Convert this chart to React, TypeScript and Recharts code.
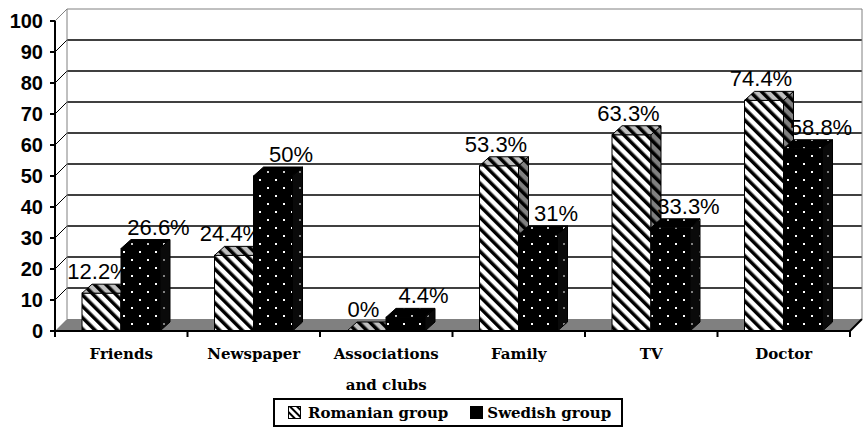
import { BarChart, Bar, XAxis, YAxis, CartesianGrid, Legend, LabelList } from "recharts";

const categories = ["Friends", "Newspaper", "Associations and clubs", "Family", "TV", "Doctor"];
const romanian = [12.2, 24.4, 0, 53.3, 63.3, 74.4];
const swedish = [26.6, 50, 4.4, 31, 33.3, 58.8];
const yTicks = [0, 10, 20, 30, 40, 50, 60, 70, 80, 90, 100];
const seriesNames = ["Romanian group", "Swedish group"];

const data = categories.map((name, i) => ({ name, ro: romanian[i], sw: swedish[i] }));

const W = 865;
const H = 428;
const M = { top: 21, right: 15, bottom: 1, left: 0 };
const XAXIS_H = 67;
const LEGEND_H = 29;
const PLOT_TOP = M.top;
const PLOT_BOTTOM = H - M.bottom - LEGEND_H - XAXIS_H;
const WALL = 12; // depth of the back wall
const BX = 10; // bar depth
const BY = 9;

function splitLabel(s: string) {
  if (s.length <= 14) return [s];
  const i = s.indexOf(" ");
  return [s.slice(0, i), s.slice(i + 1)];
}

function CatTick({ x, y, payload }: any) {
  return (
    <g>
      {splitLabel(String(payload.value)).map((line, i) => (
        <text
          key={i}
          x={x}
          y={y + 28 + i * 31}
          textAnchor="middle"
          fontFamily="DejaVu Serif"
          fontWeight="bold"
          fontSize={15}
          fill="#000"
        >
          {line}
        </text>
      ))}
    </g>
  );
}

function Box3D({ x, y, width, height, kind }: any) {
  if (x == null || y == null) return null;
  const x0 = x;
  const x1 = x + width;
  const yb = y + height;
  const front = kind === "ro" ? "url(#roFront)" : "url(#swFront)";
  const top = kind === "ro" ? "url(#roTop)" : "url(#swTop)";
  const side = kind === "ro" ? "url(#roSide)" : "url(#swSide)";
  return (
    <g>
      {height > 0 && (
        <rect x={x0} y={y} width={width} height={height} fill={front} stroke="#000" strokeWidth={1} />
      )}
      <polygon
        points={`${x1},${y} ${x1 + BX},${y - BY} ${x1 + BX},${yb - BY} ${x1},${yb}`}
        fill={side}
        stroke="#000"
        strokeWidth={1}
      />
      <polygon
        points={`${x0},${y} ${x1},${y} ${x1 + BX},${y - BY} ${x0 + BX},${y - BY}`}
        fill={top}
        stroke="#000"
        strokeWidth={1}
      />
    </g>
  );
}

const makeLabel = (shift: number) => (p: any) => {
  const { x, y, width, value } = p;
  return (
    <text
      x={Number(x) + Number(width) / 2 + shift}
      y={Number(y) - 14}
      textAnchor="middle"
      fontFamily="Liberation Sans"
      fontSize={22}
      fill="#000"
    >
      {`${value}%`}
    </text>
  );
};

function renderH(p: any) {
  const { x1, y1, x2 } = p;
  const isTop = Math.abs(y1 - PLOT_TOP) < 1;
  const isBottom = Math.abs(y1 - PLOT_BOTTOM) < 1;
  if (isBottom) {
    return (
      <g key={p.key}>
        <polygon
          points={`${x1},${y1} ${x2},${y1} ${x2 + WALL},${y1 - WALL} ${x1 + WALL},${y1 - WALL}`}
          fill="#808080"
        />
        <line x1={x2} y1={y1} x2={x2 + WALL} y2={y1 - WALL} stroke="#000" strokeWidth={2} />
      </g>
    );
  }
  const c = isTop ? "#808080" : "#000";
  return (
    <g key={p.key}>
      <line x1={x1} y1={y1} x2={x1 + WALL} y2={y1 - WALL} stroke={c} strokeWidth={1} />
      <line x1={x1 + WALL} y1={y1 - WALL} x2={x2 + WALL} y2={y1 - WALL} stroke={c} strokeWidth={isTop ? 1 : 1.5} />
    </g>
  );
}

function renderV(p: any) {
  const { x1, y1, y2, index } = p;
  return (
    <g key={p.key}>
      <line x1={x1} y1={y2} x2={x1} y2={y2 + 6} stroke="#000" strokeWidth={2} />
      {(index === 0 || index === categories.length) && (
        <line x1={x1 + WALL} y1={y1 - WALL} x2={x1 + WALL} y2={y2 - WALL} stroke="#808080" strokeWidth={1} />
      )}
    </g>
  );
}

function boundaries(props: any) {
  const o = props?.offset || {};
  let l = o.left;
  let w = o.width;
  if (l == null && props?.xAxis?.scale?.range) {
    const r = props.xAxis.scale.range();
    l = r[0];
    w = r[1] - r[0];
  }
  return categories.map((_, i) => l + (i * w) / categories.length).concat(l + w);
}

function LegendBox() {
  return (
    <div
      style={{
        boxSizing: "border-box",
        width: 350,
        height: LEGEND_H,
        border: "2px solid #000",
        display: "flex",
        alignItems: "center",
        fontFamily: "DejaVu Serif",
        fontWeight: "bold",
        fontSize: 15,
        color: "#000",
        paddingLeft: 13,
      }}
    >
      <svg width={13} height={13} style={{ marginRight: 7 }}>
        <defs>
          <pattern id="lgStripe" width={5} height={5} patternUnits="userSpaceOnUse" patternTransform="rotate(-45)">
            <rect width={5} height={5} fill="#fff" />
            <rect width={2} height={5} fill="#000" />
          </pattern>
        </defs>
        <rect x={0.5} y={0.5} width={12} height={12} fill="url(#lgStripe)" stroke="#000" />
      </svg>
      <span>{seriesNames[0]}</span>
      <svg width={13} height={13} style={{ marginLeft: 22, marginRight: 4 }}>
        <rect x={0} y={0} width={13} height={13} fill="#000" />
      </svg>
      <span>{seriesNames[1]}</span>
    </div>
  );
}

export default function App() {
  return (
    <div style={{ position: "absolute", left: 0, top: 0, background: "#fff" }}>
      <BarChart width={W} height={H} data={data} margin={M} barGap={0} barSize={39}>
        <defs>
          <pattern id="roFront" width={8} height={8} patternUnits="userSpaceOnUse" patternTransform="rotate(-45)">
            <rect width={8} height={8} fill="#fff" />
            <rect width={3.5} height={8} fill="#000" />
          </pattern>
          <pattern id="roTop" width={8} height={8} patternUnits="userSpaceOnUse" patternTransform="rotate(-45)">
            <rect width={8} height={8} fill="#c0c0c0" />
            <rect width={3.5} height={8} fill="#000" />
          </pattern>
          <pattern id="roSide" width={8} height={8} patternUnits="userSpaceOnUse" patternTransform="rotate(-45)">
            <rect width={8} height={8} fill="#808080" />
            <rect width={3.5} height={8} fill="#000" />
          </pattern>
          <pattern id="swFront" width={16} height={16} patternUnits="userSpaceOnUse">
            <rect width={16} height={16} fill="#000" />
            <rect x={3} y={3} width={2} height={2} fill="#fff" />
            <rect x={11} y={11} width={2} height={2} fill="#fff" />
          </pattern>
          <pattern id="swTop" width={16} height={16} patternUnits="userSpaceOnUse">
            <rect width={16} height={16} fill="#000" />
            <rect x={3} y={3} width={2} height={2} fill="#ccc" />
            <rect x={11} y={11} width={2} height={2} fill="#ccc" />
          </pattern>
          <pattern id="swSide" width={16} height={16} patternUnits="userSpaceOnUse">
            <rect width={16} height={16} fill="#0a0a0a" />
            <rect x={3} y={3} width={2} height={2} fill="#808080" />
            <rect x={11} y={11} width={2} height={2} fill="#808080" />
          </pattern>
        </defs>
        <CartesianGrid
          horizontal={renderH}
          vertical={renderV}
          verticalCoordinatesGenerator={boundaries}
        />
        <XAxis
          dataKey="name"
          interval={0}
          height={XAXIS_H}
          tickLine={false}
          tickSize={0}
          tickMargin={0}
          axisLine={{ stroke: "#000", strokeWidth: 2 }}
          tick={<CatTick />}
        />
        <YAxis
          width={55}
          domain={[0, 100]}
          ticks={yTicks}
          interval={0}
          tickSize={5}
          tickMargin={7}
          axisLine={{ stroke: "#000", strokeWidth: 2 }}
          tickLine={{ stroke: "#000", strokeWidth: 2 }}
          tick={{ fontFamily: "Liberation Sans", fontWeight: "bold", fontSize: 20, fill: "#000" }}
        />
        <Legend
          verticalAlign="bottom"
          align="left"
          wrapperStyle={{ left: 273, width: 350 }}
          content={() => <LegendBox />}
        />
        <Bar
          dataKey="ro"
          name={seriesNames[0]}
          isAnimationActive={false}
          shape={(p: any) => <Box3D {...p} kind="ro" />}
        >
          <LabelList dataKey="ro" content={makeLabel(-3)} />
        </Bar>
        <Bar
          dataKey="sw"
          name={seriesNames[1]}
          isAnimationActive={false}
          shape={(p: any) => <Box3D {...p} kind="sw" />}
        >
          <LabelList dataKey="sw" content={makeLabel(18)} />
        </Bar>
      </BarChart>
    </div>
  );
}
